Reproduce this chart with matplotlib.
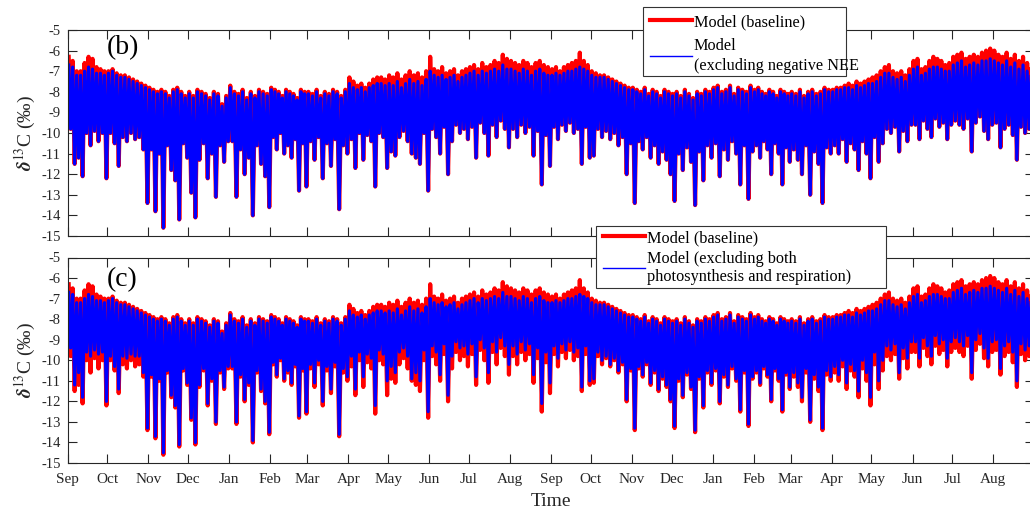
import numpy as np
import pandas as pd
import matplotlib
matplotlib.use("Agg")
import matplotlib.pyplot as plt
import matplotlib.dates as mdates
from matplotlib.patches import Rectangle

plt.rcParams["font.family"] = ["Liberation Serif", "DejaVu Serif"]
plt.rcParams["mathtext.fontset"] = "stix"
plt.rcParams["axes.unicode_minus"] = False

# ~3-day maxima / minima of the hourly series, 10 values per month (Sep 2013 .. Aug 2015)
red_top = [
    -6.3, -6.5, -7.0, -7.0, -6.6, -6.3, -6.4, -6.8, -6.9, -7.0,
    -7.0, -6.9, -7.1, -7.2, -7.2, -7.3, -7.4, -7.5, -7.6, -7.7,
    -7.8, -7.9, -8.0, -7.9, -8.0, -8.2, -7.9, -7.8, -8.0, -8.2,
    -8.0, -8.2, -7.9, -8.0, -8.1, -8.3, -8.0, -8.1, -8.6, -8.2,
    -7.7, -8.0, -8.1, -7.9, -8.3, -8.0, -8.2, -7.9, -8.0, -8.1,
    -7.8, -7.9, -8.0, -8.2, -7.9, -8.0, -8.1, -8.3, -7.9, -8.0,
    -8.0, -8.1, -7.9, -8.2, -8.0, -8.1, -7.9, -8.0, -8.2, -7.9,
    -7.3, -7.5, -7.7, -7.6, -7.8, -7.6, -7.4, -7.3, -7.3, -7.4,
    -7.2, -7.3, -7.1, -7.4, -7.2, -7.0, -7.2, -7.1, -7.3, -7.0,
    -6.3, -6.9, -7.0, -6.8, -7.1, -7.0, -6.9, -7.2, -7.0, -6.9,
    -6.8, -6.7, -6.9, -6.6, -6.8, -6.7, -6.5, -6.6, -6.2, -6.4,
    -6.5, -6.6, -6.7, -6.5, -6.6, -6.8, -6.6, -6.5, -6.7, -6.8,
    -6.9, -6.8, -7.0, -6.8, -6.7, -6.6, -6.5, -6.1, -6.5, -6.7,
    -7.0, -7.1, -7.2, -7.2, -7.3, -7.4, -7.5, -7.6, -7.7, -7.8,
    -7.8, -7.9, -8.0, -7.8, -8.1, -7.9, -8.0, -8.2, -7.9, -8.0,
    -8.1, -8.0, -8.2, -7.9, -8.1, -8.3, -8.0, -8.1, -7.9, -8.0,
    -7.8, -7.7, -8.0, -7.9, -7.7, -8.1, -7.8, -7.9, -8.0, -7.7,
    -7.9, -7.8, -8.0, -8.1, -7.9, -8.0, -8.2, -7.9, -8.0, -8.1,
    -8.0, -8.1, -7.9, -8.2, -8.0, -7.9, -8.1, -8.0, -7.8, -7.9,
    -7.9, -7.8, -7.8, -7.7, -7.6, -7.7, -7.5, -7.6, -7.5, -7.4,
    -7.3, -7.2, -7.0, -6.8, -6.7, -7.0, -7.1, -7.0, -7.2, -6.9,
    -6.5, -6.4, -6.9, -6.8, -6.5, -6.3, -6.4, -6.5, -6.7, -6.6,
    -6.3, -6.2, -6.1, -6.4, -6.3, -6.2, -6.3, -6.1, -6.0, -5.9,
    -6.0, -6.2, -6.3, -6.1, -6.4, -6.2, -6.5, -6.3, -6.6, -6.5,
]
red_low = [
    -9.8, -11.5, -11.2, -12.1, -10.0, -10.6, -9.9, -10.4, -10.0, -12.2,
    -10.0, -10.5, -11.6, -10.2, -10.4, -10.0, -10.3, -10.2, -10.8, -13.4,
    -10.8, -13.8, -11.0, -14.6, -10.6, -11.8, -12.3, -14.2, -10.5, -11.2,
    -12.9, -14.1, -11.3, -10.5, -12.2, -11.0, -13.1, -10.6, -11.4, -10.4,
    -10.4, -13.1, -10.8, -12.0, -11.2, -14.0, -10.6, -11.5, -12.1, -13.6,
    -10.2, -10.8, -10.0, -11.0, -10.6, -11.2, -10.3, -12.8, -10.5, -12.6,
    -10.4, -11.3, -10.2, -12.2, -10.5, -11.6, -10.3, -13.7, -10.6, -11.0,
    -10.3, -11.7, -10.0, -11.3, -10.1, -10.4, -12.6, -10.0, -10.2, -11.7,
    -10.9, -11.1, -10.2, -9.9, -10.4, -11.0, -11.2, -11.5, -10.0, -12.8,
    -9.8, -10.2, -11.0, -9.7, -12.0, -10.4, -9.6, -10.0, -9.8, -10.3,
    -9.7, -11.2, -9.5, -10.0, -11.1, -9.6, -10.2, -9.4, -9.8, -10.7,
    -9.8, -10.2, -9.6, -10.0, -9.7, -11.1, -9.9, -12.5, -10.1, -11.6,
    -9.7, -10.3, -9.6, -9.9, -9.5, -10.0, -9.8, -11.5, -9.7, -11.2,
    -11.1, -9.8, -10.2, -9.9, -10.3, -10.0, -10.6, -10.2, -12.0, -10.5,
    -13.4, -10.4, -10.8, -10.2, -11.2, -10.6, -11.5, -10.9, -11.3, -12.0,
    -13.3, -11.0, -11.8, -10.7, -11.4, -13.5, -10.9, -12.3, -10.6, -11.2,
    -10.5, -12.1, -10.8, -11.3, -10.4, -11.0, -12.5, -10.6, -13.2, -10.9,
    -10.6, -11.2, -10.4, -10.8, -12.0, -10.5, -11.0, -12.5, -10.7, -11.4,
    -10.8, -11.3, -12.0, -10.6, -13.0, -10.9, -11.5, -13.4, -10.7, -11.0,
    -10.6, -11.0, -10.3, -11.4, -10.5, -10.8, -11.8, -10.4, -11.0, -12.2,
    -10.2, -11.4, -10.5, -9.8, -10.0, -9.7, -10.9, -9.9, -10.4, -9.6,
    -9.6, -10.3, -9.4, -9.8, -10.2, -9.3, -9.7, -9.5, -10.3, -9.6,
    -9.4, -9.6, -9.8, -9.3, -10.9, -9.5, -9.2, -9.9, -10.3, -9.6,
    -9.5, -10.7, -9.8, -9.6, -10.1, -11.3, -9.7, -10.0, -9.8, -11.0,
]
blue_top = [
    -6.7, -6.8, -7.2, -7.2, -7.0, -6.8, -6.9, -7.1, -7.1, -7.2,
    -7.1, -7.0, -7.2, -7.3, -7.3, -7.4, -7.5, -7.6, -7.7, -7.8,
    -7.9, -8.0, -8.1, -8.0, -8.1, -8.3, -8.0, -7.9, -8.1, -8.3,
    -8.1, -8.3, -8.0, -8.1, -8.2, -8.4, -8.1, -8.2, -8.7, -8.3,
    -7.8, -8.1, -8.2, -8.0, -8.4, -8.1, -8.3, -8.0, -8.1, -8.2,
    -7.9, -8.0, -8.1, -8.3, -8.0, -8.1, -8.2, -8.4, -8.0, -8.1,
    -8.1, -8.2, -8.0, -8.3, -8.1, -8.2, -8.0, -8.1, -8.3, -8.0,
    -7.6, -7.8, -7.9, -7.8, -8.0, -7.8, -7.7, -7.6, -7.6, -7.7,
    -7.6, -7.7, -7.5, -7.8, -7.6, -7.4, -7.6, -7.5, -7.7, -7.4,
    -7.0, -7.2, -7.3, -7.2, -7.4, -7.3, -7.2, -7.5, -7.3, -7.2,
    -7.1, -7.0, -7.2, -7.0, -7.1, -7.0, -6.9, -7.0, -6.7, -6.9,
    -6.9, -7.0, -7.1, -6.9, -7.0, -7.2, -7.0, -6.9, -7.1, -7.2,
    -7.2, -7.1, -7.2, -7.1, -7.0, -7.0, -6.9, -6.8, -6.9, -7.0,
    -7.2, -7.3, -7.3, -7.3, -7.4, -7.5, -7.6, -7.7, -7.8, -7.9,
    -7.9, -8.0, -8.1, -7.9, -8.2, -8.0, -8.1, -8.3, -8.0, -8.1,
    -8.2, -8.1, -8.3, -8.0, -8.2, -8.4, -8.1, -8.2, -8.0, -8.1,
    -7.9, -7.8, -8.1, -8.0, -7.8, -8.2, -7.9, -8.0, -8.1, -7.8,
    -8.0, -7.9, -8.1, -8.2, -8.0, -8.1, -8.3, -8.0, -8.1, -8.2,
    -8.1, -8.2, -8.0, -8.3, -8.1, -8.0, -8.2, -8.1, -7.9, -8.0,
    -8.0, -7.9, -7.9, -7.8, -7.8, -7.9, -7.7, -7.8, -7.7, -7.6,
    -7.6, -7.5, -7.3, -7.1, -7.1, -7.3, -7.4, -7.3, -7.5, -7.2,
    -6.9, -6.8, -7.2, -7.1, -6.9, -6.8, -6.8, -6.9, -7.0, -7.0,
    -6.7, -6.6, -6.5, -6.8, -6.7, -6.6, -6.7, -6.5, -6.5, -6.4,
    -6.5, -6.6, -6.7, -6.5, -6.8, -6.6, -6.9, -6.7, -7.0, -6.9,
]
# minima of the run excluding both photosynthesis and respiration (panel c)
blue_c_low = [
    -9.4, -11.2, -10.6, -11.8, -9.6, -9.8, -9.5, -9.7, -9.6, -12.0,
    -9.8, -10.3, -11.4, -9.8, -9.9, -9.7, -9.8, -9.8, -10.6, -13.3,
    -10.7, -13.7, -10.9, -14.5, -10.5, -11.7, -12.2, -14.1, -10.4, -11.1,
    -12.8, -14.0, -11.2, -10.4, -12.1, -10.9, -13.0, -10.5, -11.3, -10.3,
    -10.3, -13.0, -10.7, -11.9, -11.1, -13.9, -10.5, -11.4, -12.0, -13.5,
    -10.1, -10.7, -9.9, -10.9, -10.5, -11.1, -10.2, -12.7, -10.4, -12.5,
    -10.2, -11.1, -10.0, -12.0, -10.3, -11.4, -10.1, -13.6, -10.4, -10.8,
    -9.8, -11.4, -9.6, -10.8, -9.7, -9.9, -12.2, -9.5, -9.7, -11.0,
    -10.3, -10.6, -9.6, -9.4, -9.8, -10.9, -10.6, -11.0, -9.5, -12.5,
    -9.3, -9.6, -10.7, -9.2, -11.7, -9.8, -9.1, -9.4, -9.3, -9.7,
    -9.2, -10.8, -9.0, -9.4, -10.6, -9.1, -9.6, -8.9, -9.3, -10.2,
    -9.3, -9.7, -9.1, -9.5, -9.2, -10.7, -9.4, -12.1, -9.6, -11.1,
    -9.3, -9.9, -9.2, -9.5, -9.1, -9.6, -9.4, -11.3, -9.3, -11.0,
    -10.9, -9.6, -10.0, -9.8, -10.2, -9.9, -10.5, -10.1, -11.9, -10.4,
    -13.3, -10.3, -10.7, -10.1, -11.1, -10.5, -11.4, -10.8, -11.2, -11.9,
    -13.2, -10.9, -11.7, -10.6, -11.3, -13.4, -10.8, -12.2, -10.5, -11.1,
    -10.4, -12.0, -10.7, -11.2, -10.3, -10.9, -12.4, -10.5, -13.1, -10.8,
    -10.5, -11.1, -10.3, -10.7, -11.9, -10.4, -10.9, -12.4, -10.6, -11.3,
    -10.6, -11.1, -11.8, -10.4, -12.9, -10.7, -11.3, -13.3, -10.5, -10.8,
    -10.3, -10.7, -10.0, -11.1, -10.2, -10.5, -11.5, -10.0, -10.6, -11.8,
    -9.6, -11.0, -10.0, -9.3, -9.5, -9.2, -10.6, -9.4, -9.9, -9.1,
    -9.1, -9.9, -8.9, -9.3, -9.8, -8.8, -9.2, -9.0, -9.9, -9.1,
    -8.9, -9.1, -9.3, -8.8, -10.6, -9.0, -8.7, -9.4, -9.9, -9.1,
    -9.0, -10.4, -9.3, -9.1, -9.6, -11.0, -9.2, -9.5, -9.3, -10.7,
]

# time stamps: 10 periods per month, max early in each period, min later
month_starts = pd.date_range("2013-09-01", "2015-09-01", freq="MS")
t_top, t_low = [], []
for i in range(len(month_starts) - 1):
    s = month_starts[i]
    L = (month_starts[i + 1] - s).days
    for k in range(10):
        t_top.append(s + pd.Timedelta(days=(k + 0.25) * L / 10))
        t_low.append(s + pd.Timedelta(days=(k + 0.75) * L / 10))
t_top = mdates.date2num(pd.DatetimeIndex(t_top))
t_low = mdates.date2num(pd.DatetimeIndex(t_low))


def zigzag(tops, lows):
    t = np.empty(2 * len(tops))
    y = np.empty(2 * len(tops))
    t[0::2], t[1::2] = t_top, t_low
    y[0::2], y[1::2] = tops, lows
    return t, y


t, y_red = zigzag(red_top, red_low)
_, y_blue_b = zigzag(blue_top, red_low)
_, y_blue_c = zigzag(blue_top, blue_c_low)

fig = plt.figure(figsize=(10.30, 5.14), dpi=100)
W, H = 1030.0, 514.0
x0, x1 = 67.7, 1034.0
ax_b = fig.add_axes([x0 / W, 1 - 236 / H, (x1 - x0) / W, 206 / H])
ax_c = fig.add_axes([x0 / W, 1 - 463 / H, (x1 - x0) / W, 205.5 / H])

axcol = "#262626"
xmin = mdates.date2num(pd.Timestamp("2013-09-01"))
xmax = mdates.date2num(pd.Timestamp("2015-08-31 18:00"))

panels = [
    (ax_b, y_blue_b, "Model\n(excluding negative NEE", "(b)", 0.913),
    (ax_c, y_blue_c, "Model (excluding both\nphotosynthesis and respiration)", "(c)", 0.89),
]
for ax, y_blue, lab_blue, tag, tag_y in panels:
    ax.plot(t, y_red, color="#ff0000", lw=3.0, label="Model (baseline)")
    ax.plot(t, y_blue, color="#0000ff", lw=2.3, label=lab_blue)
    ax.set_xlim(xmin, xmax)
    ax.set_ylim(-15, -5)
    ax.set_yticks(np.arange(-15, -4, 1))
    ax.set_yticklabels([str(v) for v in range(-15, -4)])
    ax.xaxis.set_major_locator(mdates.MonthLocator())
    ax.xaxis.set_major_formatter(mdates.DateFormatter("%b"))
    ax.tick_params(direction="in", length=6.5, width=0.8, top=True, right=True,
                   colors=axcol, labelsize=10.5)
    ax.tick_params(axis="y", pad=5)
    ax.tick_params(axis="x", pad=7.5, labelsize=11)
    for sp in ax.spines.values():
        sp.set_color(axcol)
        sp.set_linewidth(0.8)
    ax.set_ylabel(r"$\mathbfit{\delta}^{13}$C (‰)", fontsize=14, color=axcol, labelpad=2)
    ax.text(0.040, tag_y, tag, transform=ax.transAxes, fontsize=20, color="black",
            va="center", ha="left")

ax_b.tick_params(labelbottom=False)
ax_c.set_xlabel("Time", fontsize=14, color=axcol, labelpad=5)

# legends: MATLAB-style box drawn separately (text may overrun it)
boxes = [(ax_b, 643, 7, 846, 76, (650 / W, 1 - 14 / H), 0.5, 1.3),
         (ax_c, 596, 226, 886, 288, (603 / W, 1 - 230 / H), 0.3, 1.2)]
for ax, bx0, by0, bx1, by1, anchor, lspace, linesp in boxes:
    ax.add_artist(Rectangle((bx0 / W, 1 - by1 / H), (bx1 - bx0) / W, (by1 - by0) / H,
                            transform=fig.transFigure, facecolor="white",
                            edgecolor="#333333", lw=0.8, clip_on=False, zorder=9))
    lg = ax.legend(loc="upper left", bbox_to_anchor=anchor,
                   bbox_transform=fig.transFigure, frameon=False, fontsize=11.7,
                   handlelength=2.6, handletextpad=0.08, borderpad=0,
                   labelspacing=lspace, borderaxespad=0)
    lg.set_zorder(10)
    for txt in lg.get_texts():
        txt.set_linespacing(linesp)
    lg.get_lines()[0].set_linewidth(3.0)
    lg.get_lines()[1].set_linewidth(1.0)

fig.savefig("out.png", dpi=100, facecolor="white")
